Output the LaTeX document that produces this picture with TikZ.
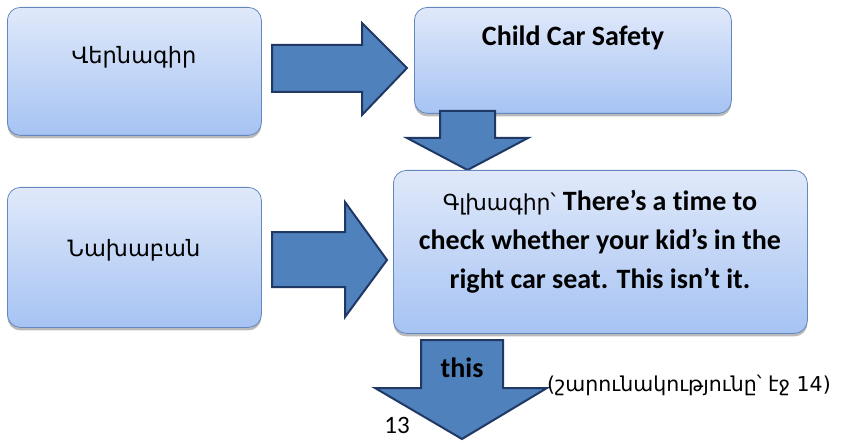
\documentclass[tikz,border=0pt]{standalone}
\usepackage{fontspec}
\setmainfont[Ligatures=NoCommon]{Carlito}
\newfontfamily\armfont{DejaVu Sans}
\usetikzlibrary{shadows}
\definecolor{boxtop}{RGB}{224,233,250}
\definecolor{boxbot}{RGB}{166,195,243}
\definecolor{boxline}{RGB}{100,135,190}
\definecolor{arrfill}{RGB}{79,129,189}
\definecolor{arrline}{RGB}{31,56,100}
\tikzset{
  box/.style={rectangle, rounded corners=13pt, draw=boxline, line width=0.8pt,
    top color=boxtop, bottom color=boxbot, inner sep=0pt,
    drop shadow={shadow xshift=0pt, shadow yshift=-3pt, fill=black!45, opacity=0.6}},
  blockarrow/.style={fill=arrfill, draw=arrline, line width=2pt, line join=miter},
  armtext/.style={font=\armfont\fontsize{22.5}{26}\selectfont, inner sep=0pt},
  boldtext/.style={font=\fontsize{28}{39}\selectfont\bfseries, inner sep=0pt},
}
\begin{document}
\begin{tikzpicture}[x=1pt, y=-1pt]
\useasboundingbox (0,0) rectangle (841,441);
% arrows behind boxes
\draw[blockarrow] (272,45) -- (362,45) -- (362,23) -- (407,68) -- (362,115) -- (362,92) -- (272,92) -- cycle;
\draw[blockarrow] (272,232) -- (345,232) -- (345,202) -- (387,260) -- (345,317) -- (345,287) -- (272,287) -- cycle;
% boxes
\node[box, minimum width=254pt, minimum height=128pt, anchor=north west] (b1) at (7,7) {};
\node[box, minimum width=317pt, minimum height=106pt, anchor=north west] (b2) at (414,7) {};
\node[box, minimum width=254pt, minimum height=140pt, anchor=north west] (b3) at (7,187) {};
% down arrow 1
\draw[blockarrow] (440,111) -- (495,111) -- (495,138) -- (528,138) -- (467.5,170) -- (407,138) -- (440,138) -- cycle;
\node[box, minimum width=414pt, minimum height=163pt, anchor=north west] (b4) at (393,170) {};
% down arrow 2
\draw[blockarrow] (421,340) -- (503,340) -- (503,388) -- (547,388) -- (462,439) -- (375,388) -- (421,388) -- cycle;
% texts
\node[armtext] (t1) at (134,57) {Վերնագիր};
\node[boldtext] (t2) at (573,38) {Child Car Safety};
\node[armtext] (t3) at (134,250) {Նախաբան};
\node[boldtext, align=center, anchor=center] (t4) at (600,242) {{\armfont\mdseries\fontsize{22}{39}\selectfont Գլխագիր՝}\hspace{7pt}There’s a time to\\check whether your kid’s in the\\right car seat. This isn{\char"0027}t it.};
\node[boldtext] (t5) at (462,368) {this};
\node[font=\fontsize{25}{30}\selectfont, inner sep=0pt] (t6) at (397,425) {13};
\node[anchor=west, inner sep=0pt, font=\armfont\fontsize{20.5}{24}\selectfont] (t7) at (547,385) {(շարունակությունը՝ էջ 14)};
\end{tikzpicture}
\end{document}
